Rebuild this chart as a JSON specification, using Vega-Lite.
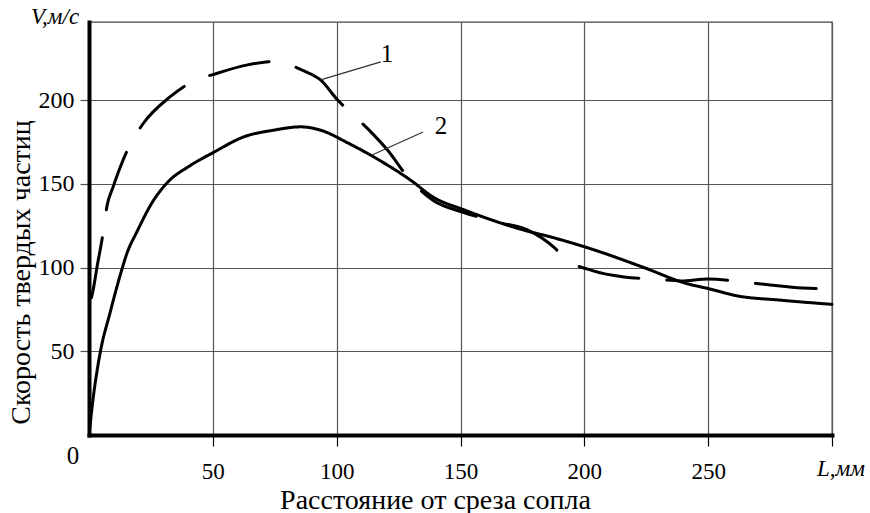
{
  "$schema": "https://vega.github.io/schema/vega-lite/v6.json",
  "width": 743,
  "height": 413,
  "autosize": {"type": "none"},
  "padding": {"left": 89, "top": 22, "right": 38, "bottom": 78},
  "background": "white",
  "config": {
    "view": {"stroke": "#444444", "strokeWidth": 1.3},
    "font": "Liberation Serif, Times New Roman, serif"
  },
  "datasets": {
    "curves": [
      {"series": "1", "L": 1.0, "V": 82},
      {"series": "1", "L": 1.6, "V": 86},
      {"series": "1", "L": 3.2, "V": 100},
      {"series": "1", "L": 5.7, "V": 120.7},
      {"series": "1", "L": 7.3, "V": 137},
      {"series": "1", "L": 9.7, "V": 148},
      {"series": "1", "L": 15.8, "V": 171},
      {"series": "1", "L": 21.9, "V": 186},
      {"series": "1", "L": 32.8, "V": 202},
      {"series": "1", "L": 40.5, "V": 210},
      {"series": "1", "L": 51.8, "V": 216},
      {"series": "1", "L": 64, "V": 221},
      {"series": "1", "L": 74.5, "V": 223},
      {"series": "1", "L": 86.6, "V": 217.5},
      {"series": "1", "L": 93.5, "V": 212},
      {"series": "1", "L": 100.4, "V": 200},
      {"series": "1", "L": 104.9, "V": 193.5},
      {"series": "1", "L": 113.4, "V": 181.6},
      {"series": "1", "L": 120.6, "V": 170},
      {"series": "1", "L": 129, "V": 153.5},
      {"series": "1", "L": 139, "V": 140},
      {"series": "1", "L": 151, "V": 133},
      {"series": "1", "L": 165, "V": 127},
      {"series": "1", "L": 177, "V": 122.5},
      {"series": "1", "L": 188, "V": 111.7},
      {"series": "1", "L": 192, "V": 105.7},
      {"series": "1", "L": 203.6, "V": 98},
      {"series": "1", "L": 216, "V": 94.4},
      {"series": "1", "L": 228, "V": 93.2},
      {"series": "1", "L": 239, "V": 92},
      {"series": "1", "L": 250, "V": 93.2},
      {"series": "1", "L": 263.6, "V": 91.4},
      {"series": "1", "L": 275, "V": 89.6},
      {"series": "1", "L": 288, "V": 87.8},
      {"series": "1", "L": 301, "V": 87.2},
      {"series": "2", "L": 0.3, "V": 4},
      {"series": "2", "L": 1.6, "V": 21},
      {"series": "2", "L": 4.5, "V": 49},
      {"series": "2", "L": 8.5, "V": 73},
      {"series": "2", "L": 13.3, "V": 99},
      {"series": "2", "L": 15.2, "V": 108},
      {"series": "2", "L": 19.4, "V": 121.5},
      {"series": "2", "L": 26, "V": 140},
      {"series": "2", "L": 31.5, "V": 150.5},
      {"series": "2", "L": 41, "V": 161},
      {"series": "2", "L": 50, "V": 168.5},
      {"series": "2", "L": 62.5, "V": 178},
      {"series": "2", "L": 74.5, "V": 182},
      {"series": "2", "L": 85.5, "V": 184},
      {"series": "2", "L": 93.5, "V": 182},
      {"series": "2", "L": 104.5, "V": 174.4},
      {"series": "2", "L": 115, "V": 166},
      {"series": "2", "L": 130, "V": 152},
      {"series": "2", "L": 139, "V": 142},
      {"series": "2", "L": 151.5, "V": 134.4},
      {"series": "2", "L": 171.7, "V": 124},
      {"series": "2", "L": 190.7, "V": 116.5},
      {"series": "2", "L": 204, "V": 110.5},
      {"series": "2", "L": 224, "V": 100},
      {"series": "2", "L": 240.5, "V": 90.8},
      {"series": "2", "L": 250.6, "V": 87.2},
      {"series": "2", "L": 262, "V": 83},
      {"series": "2", "L": 278.5, "V": 80.6},
      {"series": "2", "L": 300, "V": 78}
    ],
    "leaders": [
      {"L": 93.5, "V": 212, "L2": 117.8, "V2": 222.8},
      {"L": 114.3, "V": 167.2, "L2": 134.9, "V2": 180.9}
    ],
    "numbers": [
      {"L": -6.5, "V": -12.5, "text": "0"},
      {"L": 120.3, "V": 227.5, "text": "1"},
      {"L": 142.1, "V": 184.5, "text": "2"}
    ],
    "units": [
      {"L": -13.7, "V": 249.5, "text": "V,м/с"},
      {"L": 303.6, "V": -20.3, "text": "L,мм"}
    ]
  },
  "encoding": {
    "x": {
      "field": "L",
      "type": "quantitative",
      "scale": {"domain": [0, 300], "nice": false, "zero": false},
      "axis": {
        "values": [50, 100, 150, 200, 250, 300],
        "labelExpr": "datum.value == 300 ? '' : datum.label",
        "grid": true,
        "gridColor": "#555555",
        "gridWidth": 1.2,
        "gridOpacity": 1,
        "domainColor": "black",
        "domainWidth": 4,
        "domainCap": "square",
        "tickColor": "black",
        "tickSize": 11,
        "tickWidth": 1.2,
        "labelFont": "Liberation Serif, Times New Roman, serif",
        "labelFontSize": 23,
        "labelColor": "black",
        "labelBaseline": "alphabetic",
        "labelPadding": 32,
        "title": "Расстояние от среза сопла",
        "titleFont": "Liberation Serif, Times New Roman, serif",
        "titleFontSize": 28,
        "titleFontWeight": "normal",
        "titleColor": "black",
        "titleX": 346,
        "titleY": 73,
        "titleAlign": "center",
        "titleBaseline": "alphabetic"
      }
    },
    "y": {
      "field": "V",
      "type": "quantitative",
      "scale": {"domain": [0, 246.6], "nice": false, "zero": false},
      "axis": {
        "values": [50, 100, 150, 200],
        "grid": true,
        "gridColor": "#555555",
        "gridWidth": 1.2,
        "gridOpacity": 1,
        "domainColor": "black",
        "domainWidth": 4,
        "domainCap": "square",
        "tickColor": "#555555",
        "tickSize": 9,
        "tickWidth": 1.2,
        "labelFont": "Liberation Serif, Times New Roman, serif",
        "labelFontSize": 24,
        "labelColor": "black",
        "labelPadding": 6,
        "title": "Скорость твердых частиц",
        "titleFont": "Liberation Serif, Times New Roman, serif",
        "titleFontSize": 28,
        "titleFontWeight": "normal",
        "titleColor": "black",
        "titleX": -68,
        "titleY": 250,
        "titleAlign": "center",
        "titleBaseline": "middle",
        "titleAngle": -90
      }
    }
  },
  "layer": [
    {
      "data": {"name": "curves"},
      "mark": {"type": "line", "color": "black", "strokeWidth": 3, "strokeCap": "round", "strokeJoin": "round", "interpolate": "monotone"},
      "encoding": {
        "detail": {"field": "series", "type": "nominal"},
        "strokeDash": {
          "field": "series",
          "type": "nominal",
          "scale": {"domain": ["1", "2"], "range": [[61, 28], [1, 0]]},
          "legend": null
        }
      }
    },
    {
      "data": {"name": "leaders"},
      "mark": {"type": "rule", "color": "#333333", "strokeWidth": 1.2},
      "encoding": {
        "x2": {"field": "L2"},
        "y2": {"field": "V2"}
      }
    },
    {
      "data": {"name": "numbers"},
      "mark": {"type": "text", "font": "Liberation Serif, Times New Roman, serif", "fontSize": 25, "color": "black", "align": "center", "baseline": "middle"},
      "encoding": {"text": {"field": "text", "type": "nominal"}}
    },
    {
      "data": {"name": "units"},
      "mark": {"type": "text", "font": "Liberation Serif, Times New Roman, serif", "fontSize": 23, "fontStyle": "italic", "color": "black", "align": "center", "baseline": "middle"},
      "encoding": {"text": {"field": "text", "type": "nominal"}}
    }
  ]
}
